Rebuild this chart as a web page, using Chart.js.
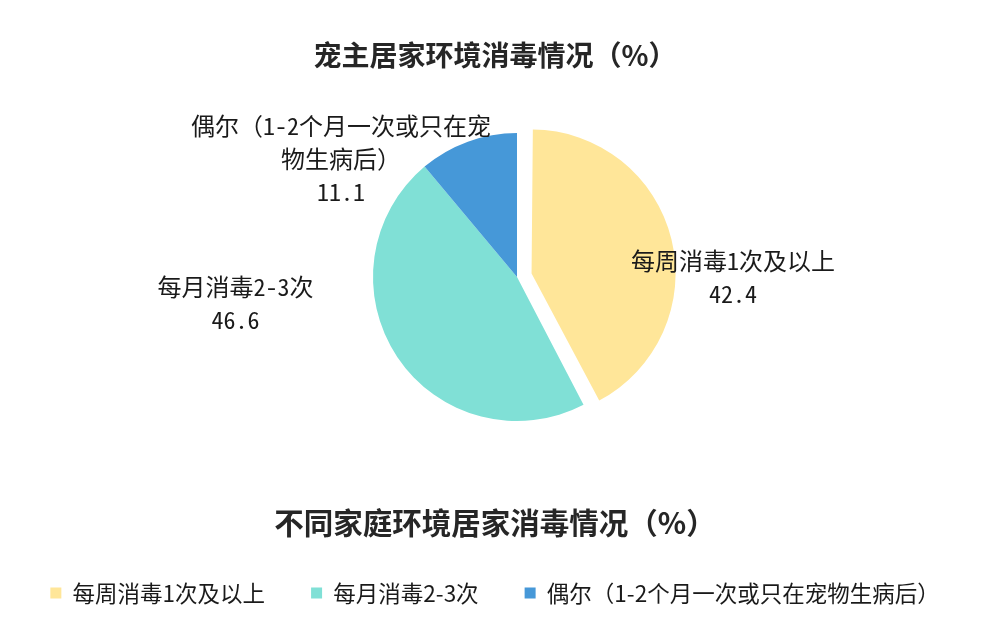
<!DOCTYPE html>
<html>
<head>
<meta charset="utf-8">
<script src="https://cdn.jsdelivr.net/npm/chart.js@4/dist/chart.umd.min.js"></script>
<style>
  html, body { margin: 0; padding: 0; background: #ffffff; }
  #wrap { width: 990px; height: 626px; }
</style>
</head>
<body>
<div id="wrap"><canvas id="disinfectChart"></canvas></div>
<script>
// data
const categories = ['每周消毒1次及以上', '每月消毒2-3次', '偶尔（1-2个月一次或只在宠物生病后）'];
const shares = [42.4, 46.6, 11.1];
const labelLines = [
    ['每周消毒1次及以上'],
    ['每月消毒2-3次'],
    ['偶尔（1-2个月一次或只在宠', '物生病后）']
];

const sliceColors = ['#FFE699', '#80E0D6', '#4698D8'];
// where each data label sits, in units of the pie radius from its centre
const labelAnchors = [[1.5, 0], [-1.955, 0.184], [-1.222, -0.823]];

const cjk = '"Noto Sans CJK SC", "Noto Sans", sans-serif';
const labelFont = '"Noto Sans Mono CJK SC", "Noto Sans CJK SC", sans-serif';

// the pie sits a little right of the page centre
const shiftPie = {
    id: 'shiftPie',
    afterLayout(chart) {
        chart.chartArea.left += 44;
    }
};

// chart.js grows a pulled-out slice a bit; keep it the same size as the rest
const trimPulledSlice = {
    id: 'trimPulledSlice',
    afterDatasetsUpdate(chart) {
        chart.getDatasetMeta(0).data.forEach(arc => {
            const pull = (arc.options.offset || 0) / 4;
            const fix = 1 - Math.sin(Math.min(Math.PI, arc.circumference));
            arc.outerRadius -= pull * fix;
        });
    }
};

const sliceLabels = {
    id: 'sliceLabels',
    afterDatasetsDraw(chart) {
        const ctx = chart.ctx;
        const meta = chart.getDatasetMeta(0);
        const r = meta.controller.outerRadius;
        ctx.save();
        ctx.font = '24px ' + labelFont;
        ctx.fillStyle = '#1a1a1a';
        ctx.textAlign = 'center';
        ctx.textBaseline = 'middle';
        meta.data.forEach((arc, i) => {
            const lines = labelLines[i].concat([shares[i].toFixed(1)]);
            const lh = 33;
            const cx = arc.x + labelAnchors[i][0] * r;
            const cy = arc.y + labelAnchors[i][1] * r - (lines.length - 1) * lh / 2;
            lines.forEach((t, k) => ctx.fillText(t, cx, cy + k * lh));
        });
        ctx.restore();
    }
};

new Chart(document.getElementById('disinfectChart'), {
    type: 'pie',
    data: {
        labels: categories,
        datasets: [{
            data: shares,
            backgroundColor: sliceColors,
            borderWidth: 0,
            offset: [60, 0, 0],   // chart.js draws a quarter of this
            radius: 144
        }]
    },
    options: {
        responsive: true,
        maintainAspectRatio: false,
        animation: false,
        layout: { padding: { bottom: 11.75 } },
        plugins: {
            tooltip: { enabled: false },
            title: {
                display: true,
                text: '宠主居家环境消毒情况（%）',
                color: '#262626',
                font: { family: cjk, size: 28, weight: 'bold' },
                padding: { top: 38.2, bottom: 0 }
            },
            subtitle: {
                display: true,
                position: 'bottom',
                weight: 500,
                text: '不同家庭环境居家消毒情况（%）',
                color: '#262626',
                font: { family: cjk, size: 29.5, weight: 'bold' },
                padding: { top: 23.1, bottom: -4.95 }
            },
            legend: {
                position: 'bottom',
                weight: 1000,
                labels: {
                    color: '#1a1a1a',
                    font: { family: cjk, size: 22.5 },
                    boxWidth: 11,
                    boxHeight: 11,
                    padding: 46
                }
            }
        }
    },
    plugins: [shiftPie, trimPulledSlice, sliceLabels]
});
</script>
</body>
</html>
